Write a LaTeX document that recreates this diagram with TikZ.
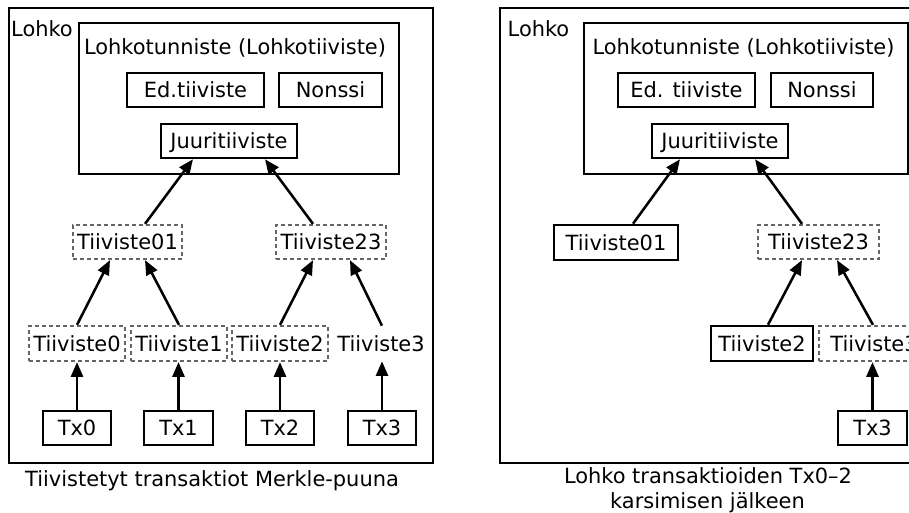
\documentclass[tikz,border=0pt]{standalone}
\usepackage{fontspec}
\setmainfont{DejaVu Sans}
\usetikzlibrary{arrows.meta,calc}

\begin{document}
\begin{tikzpicture}[x=0.75pt,y=-0.75pt,
  every node/.style={font=\fontsize{15.7}{18.75}\selectfont, inner sep=0pt,
                     text height=11.3pt, text depth=0pt},
  blockframe/.style 2 args={draw, line width=1.9pt,
                     minimum width=#1*0.75pt, minimum height=#2*0.75pt},
  boxed/.style 2 args={draw, line width=1.9pt,
                     minimum width=#1*0.75pt, minimum height=#2*0.75pt},
  hashed/.style 2 args={draw=black!60, line width=1.7pt,
                     dash pattern=on 3pt off 2.25pt,
                     minimum width=#1*0.75pt, minimum height=#2*0.75pt},
  bare/.style 2 args={minimum width=#1*0.75pt, minimum height=#2*0.75pt},
  link/.style={line width=1.9pt, -{Triangle[length=11pt,width=9pt]}},
]
\useasboundingbox (0,0) rectangle (909,513);
\clip (0,0) rectangle (909,513);

% ---------- full block with the Merkle tree ----------
\node[blockframe={424}{455}] (outerL) at (221,235.5) {};
\node (lohkoL) at (42,29) {Lohko};
\node[blockframe={320}{151}] (hdrL) at (239,98.5) {};
\node (titleL) at (235,47) {Lohkotunniste (Lohkotiiviste)};
\node[boxed={137}{34}] (prevL) at (195.5,90) {Ed.tiiviste};
\node[boxed={103}{34}] (nonceL) at (330.5,90) {Nonssi};
\node[boxed={136}{34}] (rootL) at (229,141) {Juuritiiviste};

\node[hashed={109}{34}] (h01L) at (127.5,242) {Tiiviste01};
\node[hashed={110}{34}] (h23L) at (331,242) {Tiiviste23};

\node[hashed={96}{35}] (h0L) at (77,343.5) {Tiiviste0};
\node[hashed={96}{35}] (h1L) at (179,343.5) {Tiiviste1};
\node[hashed={96}{35}] (h2L) at (280,343.5) {Tiiviste2};
\node[bare={96}{35}] (h3L) at (381,343.5) {Tiiviste3};

\node[boxed={68}{34}] (tx0L) at (77,428) {Tx0};
\node[boxed={69}{34}] (tx1L) at (178.5,428) {Tx1};
\node[boxed={68}{34}] (tx2L) at (280,428) {Tx2};
\node[boxed={68}{34}] (tx3L) at (382,428) {Tx3};

\draw[link] (tx0L.north) -- (tx0L.north |- h0L.south);
\draw[link] (tx1L.north) -- (tx1L.north |- h1L.south);
\draw[link] (tx2L.north) -- (tx2L.north |- h2L.south);
\draw[link] (tx3L.north) -- (tx3L.north |- h3L.south);

\draw[link] (h0L.north) -- ($(h01L.south)+(-17.5,0)$);
\draw[link] (h1L.north) -- ($(h01L.south)+(17.5,0)$);
\draw[link] (h2L.north) -- ($(h23L.south)+(-18,0)$);
\draw[link] ($(h3L.north)+(1,0)$) -- ($(h23L.south)+(19,0)$);

\draw[link] ($(h01L.north)+(17.5,0)$) -- ($(rootL.south)+(-36,0)$);
\draw[link] ($(h23L.north)+(-18,0)$) -- ($(rootL.south)+(36,0)$);

\node (capL) at (212,478.5) {Tiivistetyt transaktiot Merkle-puuna};

% ---------- the same block after pruning ----------
\node[blockframe={460}{455}] (outerR) at (730,235.5) {};
\node (lohkoR) at (538.5,29) {Lohko};
\node[blockframe={324}{151}] (hdrR) at (746,98.5) {};
\node (titleR) at (743.5,47) {Lohkotunniste (Lohkotiiviste)};
\node[boxed={137}{34}] (prevR) at (686.5,90) {Ed. tiiviste};
\node[boxed={102}{34}] (nonceR) at (822,90) {Nonssi};
\node[boxed={136}{34}] (rootR) at (720,141) {Juuritiiviste};

\node[boxed={124}{35}] (h01R) at (616,242.5) {Tiiviste01};
\node[hashed={121}{34}] (h23R) at (818.5,242) {Tiiviste23};

\node[boxed={102}{35}] (h2R) at (762,343.5) {Tiiviste2};
\node[hashed={110}{35}] (h3R) at (874,343.5) {Tiiviste3};

\node[boxed={69}{34}] (tx3R) at (872.5,428) {Tx3};

\draw[link] (tx3R.north) -- (tx3R.north |- h3R.south);
\draw[link] ($(h2R.north)+(6,0)$) -- ($(h23R.south)+(-16.5,0)$);
\draw[link] ($(h3R.north)+(-1,0)$) -- ($(h23R.south)+(18.5,0)$);

\draw[link] ($(h01R.north)+(17,0)$) -- ($(rootR.south)+(-40,0)$);
\draw[link] ($(h23R.north)+(-16.5,0)$) -- ($(rootR.south)+(35,0)$);

\node (capR1) at (708,475.5) {Lohko transaktioiden Tx0–2};
\node (capR2) at (707.5,500.5) {karsimisen jälkeen};
\end{tikzpicture}
\end{document}
